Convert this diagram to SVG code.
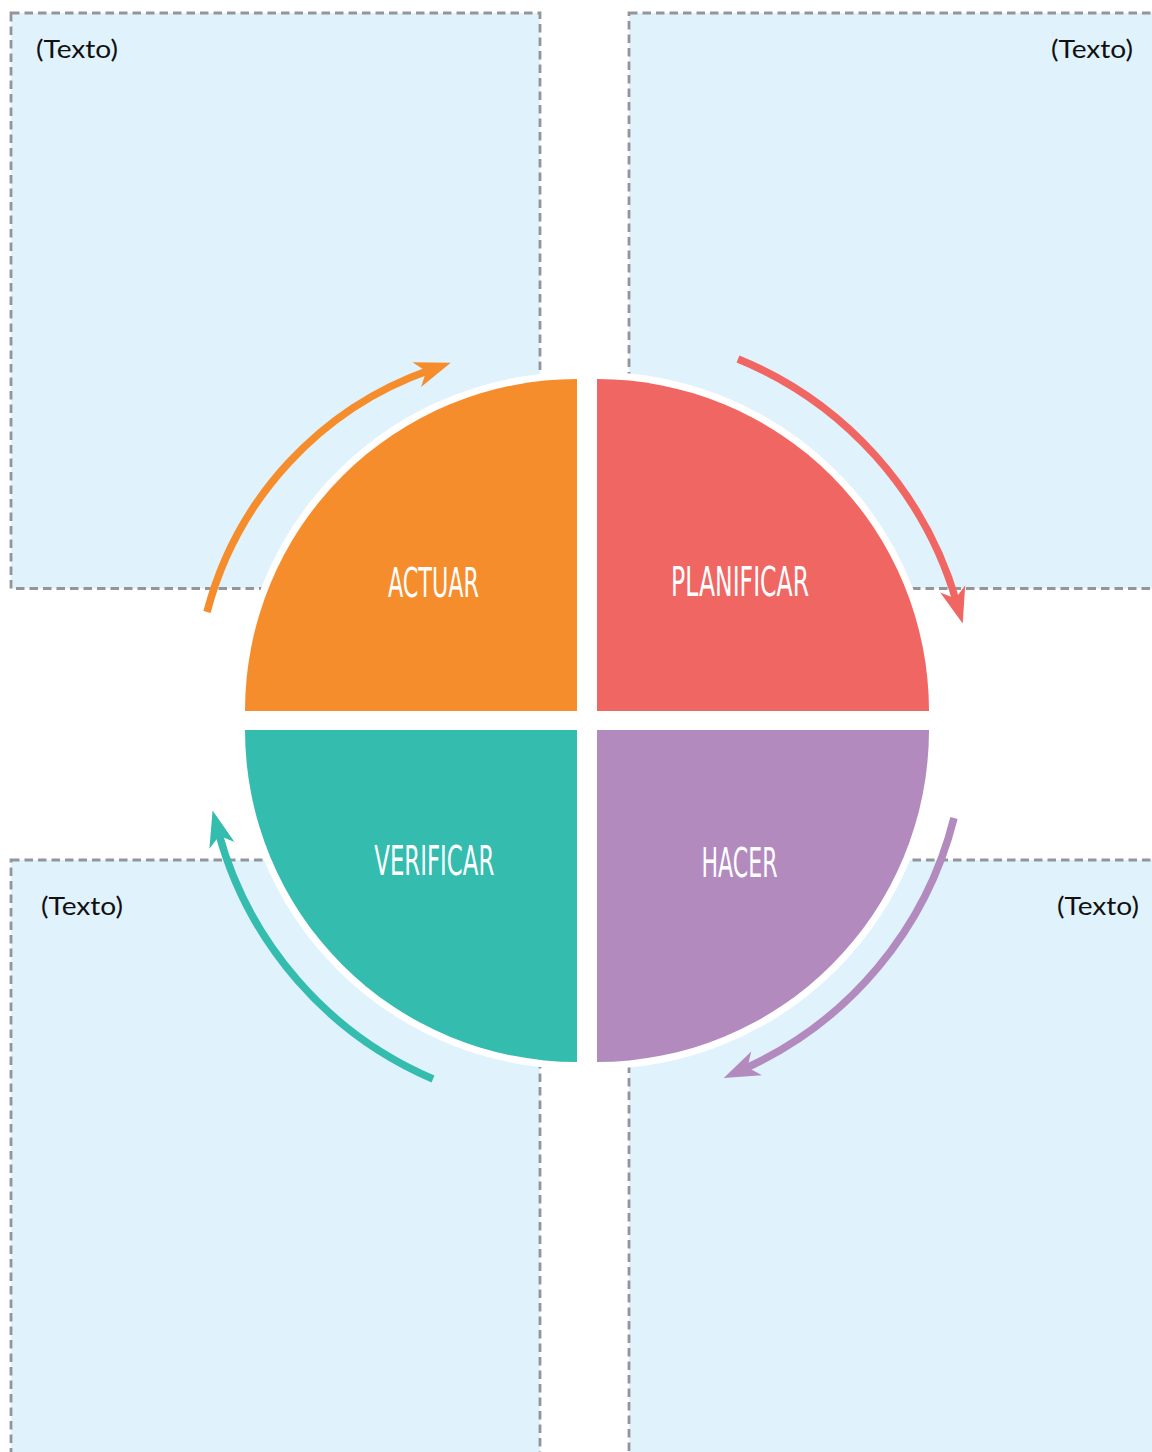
<svg xmlns="http://www.w3.org/2000/svg" width="1152" height="1452" viewBox="0 0 1152 1452">
<defs>
<style>
.box{fill:#E0F2FC;stroke:#939598;stroke-width:2.8;stroke-dasharray:8.5 5}
.note{font-family:Lato,"Open Sans",sans-serif;font-size:25px;fill:#111}
.q{stroke:#fff;stroke-width:14;paint-order:stroke}
.lbl{font-family:"Liberation Sans Narrow","DejaVu Sans Condensed","Liberation Sans",sans-serif;font-size:40px;fill:#fff;text-anchor:middle}
.arr{fill:none;stroke-width:7.5;stroke-linecap:butt}
</style>
<marker id="mO" markerUnits="userSpaceOnUse" markerWidth="60" markerHeight="40" viewBox="-5 -20 60 40" refX="14" refY="0" orient="auto" overflow="visible"><path d="M36,0 L0,-13 L10,0 L0,13 Z" fill="#F68D2C"/></marker>
<marker id="mR" markerUnits="userSpaceOnUse" markerWidth="60" markerHeight="40" viewBox="-5 -20 60 40" refX="14" refY="0" orient="auto" overflow="visible"><path d="M36,0 L0,-13 L10,0 L0,13 Z" fill="#F06663"/></marker>
<marker id="mT" markerUnits="userSpaceOnUse" markerWidth="60" markerHeight="40" viewBox="-5 -20 60 40" refX="14" refY="0" orient="auto" overflow="visible"><path d="M36,0 L0,-13 L10,0 L0,13 Z" fill="#34BCAF"/></marker>
<marker id="mP" markerUnits="userSpaceOnUse" markerWidth="60" markerHeight="40" viewBox="-5 -20 60 40" refX="14" refY="0" orient="auto" overflow="visible"><path d="M36,0 L0,-13 L10,0 L0,13 Z" fill="#B28ABE"/></marker>
</defs>
<rect width="1152" height="1452" fill="#fff"/>
<g id="box-tl"><rect class="box" x="11" y="13" width="529" height="575.5"/><text class="note" x="36" y="58" textLength="82" lengthAdjust="spacingAndGlyphs">(Texto)</text></g>
<g id="box-tr"><rect class="box" x="629" y="13" width="560" height="575.5"/><text class="note" x="1051" y="58" textLength="82" lengthAdjust="spacingAndGlyphs">(Texto)</text></g>
<g id="box-bl"><rect class="box" x="11" y="860" width="529" height="640"/><text class="note" x="41" y="915" textLength="82" lengthAdjust="spacingAndGlyphs">(Texto)</text></g>
<g id="box-br"><rect class="box" x="629" y="860" width="560" height="640"/><text class="note" x="1057" y="915" textLength="82" lengthAdjust="spacingAndGlyphs">(Texto)</text></g>
<g id="actuar"><path class="q" fill="#F68D2C" d="M577,711 L245,711 A332,332 0 0 1 577,379 Z"/><text class="lbl" x="433.5" y="597" textLength="91" lengthAdjust="spacingAndGlyphs">ACTUAR</text></g>
<g id="planificar"><path class="q" fill="#F06663" d="M597,711 L597,379 A332,332 0 0 1 929,711 Z"/><text class="lbl" x="740" y="596" textLength="138" lengthAdjust="spacingAndGlyphs">PLANIFICAR</text></g>
<g id="hacer"><path class="q" fill="#B28ABE" d="M597,730 L929,730 A332,332 0 0 1 597,1062 Z"/><text class="lbl" x="739.5" y="877" textLength="76" lengthAdjust="spacingAndGlyphs">HACER</text></g>
<g id="verificar"><path class="q" fill="#34BCAF" d="M577,730 L577,1062 A332,332 0 0 1 245,730 Z"/><text class="lbl" x="434.3" y="875" textLength="120" lengthAdjust="spacingAndGlyphs">VERIFICAR</text></g>
<g id="connectors">
<path class="arr" stroke="#F68D2C" d="M207,612 A350,350 0 0 1 430,370" marker-end="url(#mO)"/>
<path class="arr" stroke="#F06663" d="M738,359 A375,375 0 0 1 956.6,602.3" marker-end="url(#mR)"/>
<path class="arr" stroke="#B28ABE" stroke-width="5.5" d="M954,818 A375,375 0 0 1 743.8,1069" marker-end="url(#mP)"/>
<path class="arr" stroke="#34BCAF" d="M433,1079 A375,375 0 0 1 218.3,831.8" marker-end="url(#mT)"/>
</g>
</svg>
